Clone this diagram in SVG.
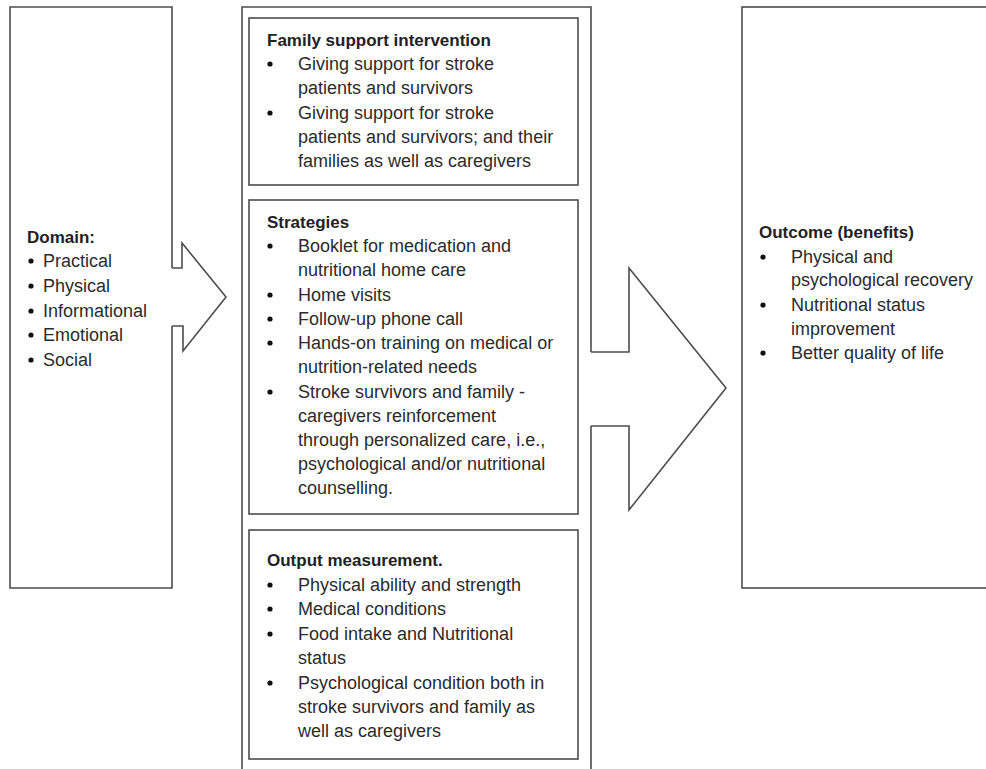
<svg xmlns="http://www.w3.org/2000/svg" width="986" height="769" viewBox="0 0 986 769">
<style>
.ln{fill:none;stroke:#4d4d4d;stroke-width:1.6}
.bx{fill:#fff;stroke:#4d4d4d;stroke-width:1.6}
text{font-family:"Liberation Sans",Arial,sans-serif;font-size:18px;fill:#2b2b2b}
.h{font-weight:bold;font-size:17px;fill:#222}
.b{fill:#111}
</style>
<defs>
<circle id="dot" r="2.6" class="b"/>
</defs>
<rect width="986" height="769" fill="#fff"/>
<g id="domain">
<path class="ln" d="M172,268 V7 H10 V588 H172 V326"/>
<text class="h" x="27" y="243">Domain:</text>
<use href="#dot" x="31" y="261"/><text x="43" y="267">Practical</text>
<use href="#dot" x="31" y="286"/><text x="43" y="292">Physical</text>
<use href="#dot" x="31" y="311"/><text x="43" y="317">Informational</text>
<use href="#dot" x="31" y="335"/><text x="43" y="341">Emotional</text>
<use href="#dot" x="31" y="360"/><text x="43" y="366">Social</text>
</g>
<g id="intervention">
<path class="ln" d="M242,775 V7 H591 V352 M591,426 V775"/>
<g id="family-support">
<rect class="bx" x="249" y="18" width="329" height="167"/>
<text class="h" x="267" y="46">Family support intervention</text>
<use href="#dot" x="270" y="64"/><text x="298" y="70">Giving support for stroke</text>
<text x="298" y="94">patients and survivors</text>
<use href="#dot" x="270" y="113"/><text x="298" y="119">Giving support for stroke</text>
<text x="298" y="143">patients and survivors; and their</text>
<text x="298" y="167">families as well as caregivers</text>
</g>
<g id="strategies">
<rect class="bx" x="249" y="200" width="329" height="314"/>
<text class="h" x="267" y="228">Strategies</text>
<use href="#dot" x="270" y="246"/><text x="298" y="252">Booklet for medication and</text>
<text x="298" y="276">nutritional home care</text>
<use href="#dot" x="270" y="295"/><text x="298" y="301">Home visits</text>
<use href="#dot" x="270" y="319"/><text x="298" y="325">Follow-up phone call</text>
<use href="#dot" x="270" y="343"/><text x="298" y="349">Hands-on training on medical or</text>
<text x="298" y="373">nutrition-related needs</text>
<use href="#dot" x="270" y="392"/><text x="298" y="398">Stroke survivors and family -</text>
<text x="298" y="422">caregivers reinforcement</text>
<text x="298" y="446">through personalized care, i.e.,</text>
<text x="298" y="470">psychological and/or nutritional</text>
<text x="298" y="494">counselling.</text>
</g>
<g id="output">
<rect class="bx" x="249" y="530" width="329" height="229"/>
<text class="h" x="267" y="566">Output measurement.</text>
<use href="#dot" x="270" y="585"/><text x="298" y="591">Physical ability and strength</text>
<use href="#dot" x="270" y="609"/><text x="298" y="615">Medical conditions</text>
<use href="#dot" x="270" y="634"/><text x="298" y="640">Food intake and Nutritional</text>
<text x="298" y="664">status</text>
<use href="#dot" x="270" y="683"/><text x="298" y="689">Psychological condition both in</text>
<text x="298" y="713">stroke survivors and family as</text>
<text x="298" y="737">well as caregivers</text>
</g>
</g>
<g id="outcome">
<rect class="bx" x="742" y="7" width="270" height="581"/>
<text class="h" x="759" y="238">Outcome (benefits)</text>
<use href="#dot" x="763" y="257"/><text x="791" y="263">Physical and</text>
<text x="791" y="286">psychological recovery</text>
<use href="#dot" x="763" y="305"/><text x="791" y="311">Nutritional status</text>
<text x="791" y="335">improvement</text>
<use href="#dot" x="763" y="353"/><text x="791" y="359">Better quality of life</text>
</g>
<g id="connectors">
<path class="ln" d="M172,268 H182 V243 L226,297 L183,351 V326 H172"/>
<path class="ln" d="M591,352 H629 V268 L726,388 L629,510 V426 H591"/>
</g>
</svg>
